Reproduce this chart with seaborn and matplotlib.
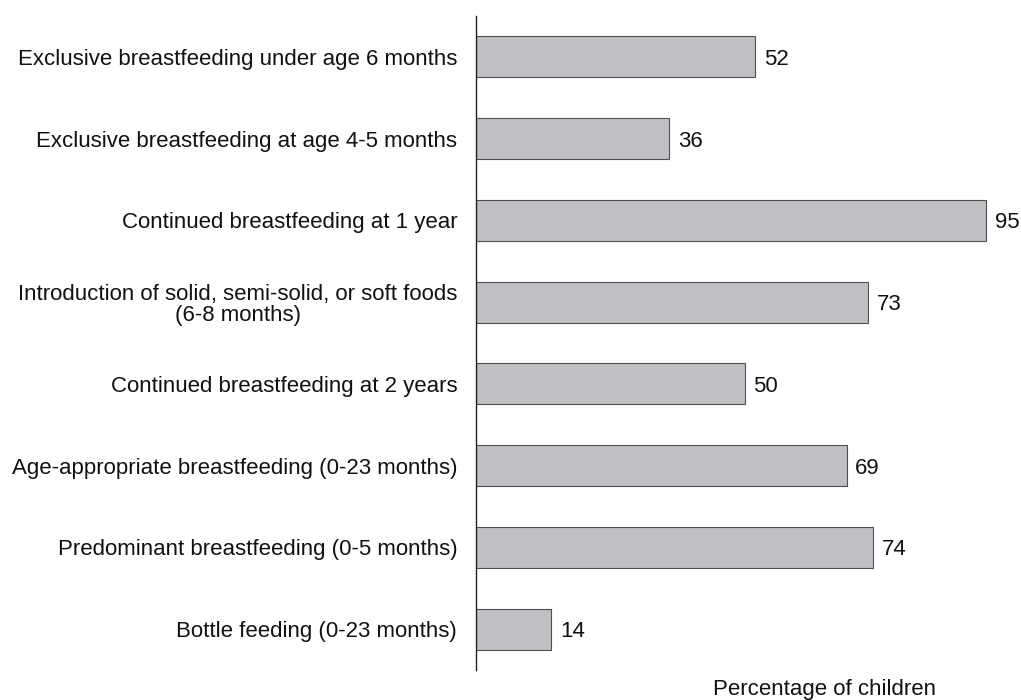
import matplotlib
matplotlib.use("Agg")
import matplotlib.pyplot as plt
import seaborn as sns
import pandas as pd

categories = [
    "Exclusive breastfeeding under age 6 months",
    "Exclusive breastfeeding at age 4-5 months",
    "Continued breastfeeding at 1 year",
    "Introduction of solid, semi-solid, or soft foods\n(6-8 months)",
    "Continued breastfeeding at 2 years",
    "Age-appropriate breastfeeding (0-23 months)",
    "Predominant breastfeeding (0-5 months)",
    "Bottle feeding (0-23 months)",
]
values = [52, 36, 95, 73, 50, 69, 74, 14]
x_label = "Percentage of children"

df = pd.DataFrame({"indicator": categories, "pct": values})

sns.set_style("white")
plt.rcParams["font.family"] = ["Liberation Sans", "DejaVu Sans"]

fig = plt.figure(figsize=(10.21, 7.0), dpi=100)
ax = fig.add_axes([0.4662, 0.0429, 0.526, 0.9343])

sns.barplot(data=df, x="pct", y="indicator", orient="h", color="#bfc0c4",
            saturation=1, width=0.5, edgecolor="#505050", linewidth=0.8, ax=ax)

# value labels just right of each bar
for i, v in enumerate(values):
    ax.text(v + 1.6, i, f"{v}", va="center_baseline", ha="left", fontsize=16, color="#111111")

ax.set_xlim(0, 100)
ax.set_ylim(7.5, -0.5)
ax.set_xlabel("")
ax.set_ylabel("")
ax.set_xticks([])
ax.tick_params(axis="y", length=0, pad=13.5, labelsize=16, labelcolor="#111111")
for lab in ax.get_yticklabels():
    lab.set_horizontalalignment("right")
    lab.set_multialignment("center")
    lab.set_linespacing(1.0)
for s in ["top", "right", "bottom"]:
    ax.spines[s].set_visible(False)
ax.spines["left"].set_color("#222222")
ax.spines["left"].set_linewidth(1.0)

fig.text(0.808, 0.007, x_label, ha="center", va="baseline", fontsize=16, color="#111111")

fig.savefig("out.png", dpi=100)
